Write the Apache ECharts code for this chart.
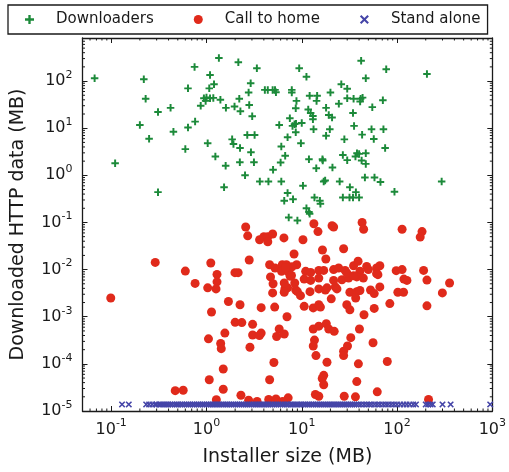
<!DOCTYPE html>
<html>
<head>
<meta charset="utf-8">
<script src="https://cdn.jsdelivr.net/npm/echarts@6/dist/echarts.min.js"></script>
<style>
  html, body { margin: 0; padding: 0; background: #fff; }
  #chart { width: 509px; height: 472px; }
</style>
</head>
<body>
<div id="chart"></div>
<script>
// [installer size MB, downloaded HTTP data MB]
const downloaders = [
  [0.067, 115], [0.11, 1.8], [0.22, 109], [0.23, 42], [0.2, 11.7], [0.25, 6.0], [0.31, 22], [0.31, 0.44],
  [0.42, 27], [0.45, 8.4], [0.6, 3.6], [0.64, 10.3], [0.64, 70], [0.75, 200], [0.76, 13.8], [0.87, 30],
  [0.94, 43], [1.0, 45], [1.09, 43], [1.18, 44], [0.98, 38], [1.07, 70], [1.09, 135], [1.2, 86],
  [1.35, 310], [1.4, 40], [1.03, 4.8], [1.24, 2.5], [1.53, 0.56], [1.59, 1.6], [1.6, 27], [1.97, 29],
  [2.16, 250], [2.21, 42], [2.27, 23], [1.86, 5.8], [1.92, 4.6], [2.25, 3.8], [2.24, 1.9], [2.54, 1.0],
  [2.68, 7.2], [3.2, 7.2], [2.81, 31], [2.77, 57], [2.91, 90], [3.02, 18], [2.93, 3.1], [3.15, 1.9],
  [3.38, 187], [3.63, 0.74], [4.47, 0.74], [4.1, 65], [4.4, 65], [4.95, 65], [5.24, 65], [5.36, 58],
  [5.0, 1.31], [5.8, 11.7], [6.0, 1.87], [6.1, 4.1], [6.7, 2.6], [6.1, 0.74], [7.1, 0.42], [6.55, 0.29],
  [8.1, 0.31], [7.1, 6.4], [7.5, 16.3], [7.86, 65], [7.86, 57], [8.0, 11.2], [8.4, 12.2], [8.7, 12.5],
  [8.65, 26.5], [8.8, 38], [8.65, 8.2],
  [42, 270], [9.4, 187], [11.2, 124], [77, 178], [206, 141], [47, 115], [26, 86], [30, 69], [20, 57],
  [12.1, 49], [14.5, 49], [14.3, 38], [30, 43], [35, 42], [41.5, 42], [43.5, 44.5], [41, 37], [71, 39],
  [24.5, 33], [11.7, 25], [12.4, 21], [18, 27], [55, 28], [34.5, 21], [19.2, 19], [20.8, 16.8],
  [13.1, 18.2], [13.1, 15.5], [10, 12.9], [13.3, 9.5], [19.7, 9.5], [35.4, 11.2], [54, 9.5], [72, 9.5],
  [18, 6.9], [28, 5.8], [43, 7.3], [57, 5.9], [9.8, 4.8], [75, 3.8], [11.9, 2.2], [16.5, 2.2],
  [16.6, 2.06], [14.2, 1.42], [21, 1.46], [27, 2.7], [30, 2.1], [38, 2.95], [36.6, 2.5], [40, 2.85],
  [47, 2.95], [42.5, 2.06], [47, 1.75], [46, 0.9], [58, 0.9], [67, 0.72], [10.3, 0.6], [17, 0.74],
  [17.6, 0.78], [25, 0.74], [32, 0.56], [37, 0.44], [94, 0.45], [294, 0.74], [13.6, 0.34], [15.5, 0.29],
  [15.7, 0.25], [27, 0.34], [31.7, 0.34], [34.5, 0.34], [40, 0.34], [11.2, 0.2], [11.9, 0.166],
  [12.1, 0.153], [7.3, 0.128], [9.0, 0.11]
]

const callHome = [
  [0.099, 0.0025], [0.29, 0.0142], [0.6, 0.0093], [0.76, 0.0051], [1.11, 0.0138], [1.29, 0.0079],
  [1.29, 0.0055], [1.26, 0.0039], [1.03, 0.0041], [1.13, 0.00126], [1.7, 0.0021], [1.99, 0.0086],
  [2.15, 0.0086], [2.25, 0.0018], [2.58, 0.08], [2.71, 0.052], [2.81, 0.016], [3.75, 0.00156],
  [3.61, 0.043], [4.0, 0.05], [4.4, 0.05], [4.95, 0.057], [4.4, 0.039], [6.5, 0.047], [5.2, 0.0016],
  [7.0, 0.001], [2.0, 0.00076], [2.35, 0.00075], [3.05, 0.00069], [3.05, 0.00041], [1.56, 0.00045],
  [3.75, 0.00045], [3.6, 0.0004], [5.8, 0.00055], [5.45, 0.00038], [6.55, 0.00043], [1.05, 0.00034],
  [1.41, 0.00027], [1.43, 0.00021], [2.86, 0.000225], [5.1, 0.000107], [1.5, 7.8e-5], [1.07, 4.6e-5],
  [4.6, 4.6e-5], [1.5, 2.9e-5], [0.47, 2.7e-5], [0.57, 2.75e-5], [2.3, 2.16e-5], [1.27, 1.73e-5],
  [2.77, 1.7e-5], [3.4, 1.6e-5], [4.5, 1.75e-5], [5.36, 1.8e-5], [7.2, 1.9e-5], [6.3, 1.6e-5],
  [4.6, 0.0127], [4.7, 0.007], [5.0, 0.005], [4.95, 0.0032], [5.24, 0.0108], [6.25, 0.0127],
  [6.14, 0.0092], [6.9, 0.0127], [7.26, 0.0089], [7.56, 0.0072], [8.3, 0.0214], [8.85, 0.0127],
  [6.65, 0.0039], [7.1, 0.0041], [8.44, 0.0052], [8.65, 0.0037], [7.9, 0.0115], [6.75, 0.011],
  [7.8, 0.0075], [6.55, 0.0052], [6.55, 0.0033],
  [13.4, 0.094], [14.8, 0.064], [20.8, 0.085], [21.6, 0.08], [43, 0.1], [44.6, 0.072], [113, 0.072],
  [183, 0.064], [175, 0.049], [10.3, 0.043], [16.5, 0.026], [17.9, 0.0168], [27.5, 0.0277],
  [11, 0.0092], [12.4, 0.0087], [15.1, 0.0096], [17, 0.0096], [21.6, 0.01], [24.4, 0.0108],
  [28.5, 0.0096], [35, 0.0121], [39, 0.015], [40.8, 0.0092], [48, 0.0117], [50, 0.01], [61, 0.0108],
  [66, 0.0121], [63, 0.0078], [98, 0.0095], [113, 0.01], [190, 0.0096], [118, 0.0063], [127, 0.0059],
  [206, 0.006], [356, 0.0052], [299, 0.0032], [10.6, 0.0063], [12.4, 0.0059], [15.1, 0.0066],
  [21.6, 0.0059], [26.4, 0.0061], [31, 0.0066], [37.8, 0.007], [44.3, 0.0066], [29.7, 0.0085],
  [35, 0.0074], [61, 0.0082],
  [9.0, 0.0034], [9.7, 0.0028], [12.2, 0.0034], [15.1, 0.0039], [17.7, 0.0037], [18.4, 0.0041],
  [22.5, 0.0043], [23.4, 0.0039], [32, 0.0033], [37.8, 0.0034], [40.8, 0.0036], [52.7, 0.0037],
  [57.6, 0.0031], [66, 0.0043], [102, 0.0033], [117, 0.0033], [36.8, 0.0025], [20.4, 0.0024],
  [10.6, 0.00166], [13.2, 0.00154], [15.1, 0.0018], [15.7, 0.0016], [29.7, 0.0018], [32, 0.0014],
  [57.6, 0.0015], [84, 0.0019], [206, 0.0017], [45, 0.0011], [13.2, 0.00055], [15.1, 0.00063],
  [18.1, 0.00071], [19.2, 0.00055], [21.9, 0.00049], [40.3, 0.00055], [32.7, 0.00036], [13.6, 0.00032],
  [13.2, 0.00024], [30.2, 0.00024], [27.5, 0.000185], [27.5, 0.00015], [56, 0.00028], [14.1, 0.00015],
  [18.4, 0.000108], [39.3, 0.0001], [79, 0.000112], [17, 5.7e-5], [16.4, 4.9e-5], [17, 3.6e-5],
  [37.8, 4.2e-5], [62, 2.55e-5], [13.9, 2.24e-5], [15.1, 2.06e-5], [27.9, 2.06e-5], [36.6, 2e-5],
  [214, 1.75e-5]
]

// stand-alone installers: no HTTP data, drawn on the floor value
const standAloneY = 1.38e-5
const standAloneX = [
  0.13, 0.153, 0.233, 0.25, 0.27, 0.29, 0.3, 0.318, 0.333, 0.35, 0.367, 0.384, 0.4, 0.42, 0.44,
  0.466, 0.49, 0.51, 0.537, 0.56, 0.59, 0.62, 0.65, 0.68, 0.716, 0.75, 0.79, 0.826, 0.866, 0.91, 0.95,
  1.0, 1.05, 1.1, 1.15, 1.2, 1.26, 1.32, 1.38, 1.45, 1.52, 1.6, 1.67, 1.75, 1.84, 1.93, 2.02, 2.12,
  2.22, 2.33, 2.44, 2.56, 2.68, 2.81, 2.95, 3.1, 3.25, 3.4, 3.57, 3.74, 3.92, 4.1, 4.3, 4.5, 4.72,
  4.95, 5.2, 5.45, 5.7, 6.0, 6.3, 6.6, 6.9, 7.2, 7.6, 7.9, 8.3, 8.7, 9.1, 9.6, 10, 10.5, 11, 11.6,
  12.1, 12.7, 13.3, 14, 14.6, 15.3, 16, 16.8, 17.6, 18.5, 19.4, 20.3, 21.3, 22.3, 23.4, 24.5, 25.7,
  27, 28.3, 29.6, 31, 32.5, 34, 35.7, 37.4,
  39.5, 42, 45, 48, 51, 54, 58, 62, 66, 71, 76, 81, 87, 93, 100, 108, 117, 126, 136, 148, 158,
  200, 212, 225, 237, 300, 365, 950
]

const xMin = 0.05
const xMax = 1000
const yMin = 1e-5
const yMax = 820

// minor ticks of the log axes (2..9 x 10^k)
function minorTicks(lo, hi) {
  const out = []
  for (let e = -6; e <= 3; e++) {
    for (let k = 2; k <= 9; k++) {
      const v = k * Math.pow(10, e)
      if (v > lo && v < hi) out.push(v)
    }
  }
  return out
}
const xMinorTicks = minorTicks(xMin, xMax)
const yMinorTicks = minorTicks(yMin, yMax)

const FONT = 'DejaVu Sans'
const INK = '#1a1a1a'
const plusPath = 'path://M-1.3,-5L1.3,-5L1.3,-1.3L5,-1.3L5,1.3L1.3,1.3L1.3,5L-1.3,5L-1.3,1.3L-5,1.3L-5,-1.3L-1.3,-1.3Z'
const xPath = 'path://M-5,-3.4L-3.4,-5L0,-1.6L3.4,-5L5,-3.4L1.6,0L5,3.4L3.4,5L0,1.6L-3.4,5L-5,3.4L-1.6,0Z'

function powLabel(value) {
  const e = Math.round(Math.log10(value))
  if (Math.abs(Math.log10(value) - e) > 1e-6) return ''
  return '10{sup|' + e + '}'
}
const labelRich = {
  sup: { fontSize: 11, fontFamily: FONT, color: INK, padding: [0, 0, 12, 0] }
}

function logAxis(pos, min, max, extra) {
  return Object.assign({
    type: 'log',
    position: pos,
    min: min,
    max: max,
    axisLine: { show: true, onZero: false, lineStyle: { color: INK, width: 1.3 } },
    axisTick: { show: true, inside: true, length: 5, lineStyle: { color: INK, width: 1 } },
    splitLine: { show: false },
    axisLabel: { show: false }
  }, extra)
}

const chart = echarts.init(document.getElementById('chart'))

chart.setOption({
  animation: false,
  legend: {
    data: ['Downloaders', 'Call to home', 'Stand alone'],
    left: 8,
    top: 5,
    padding: [7, 7, 7, 17],
    itemGap: 40,
    itemWidth: 9,
    itemHeight: 9,
    borderColor: INK,
    borderWidth: 1.3,
    borderRadius: 0,
    textStyle: { fontFamily: FONT, fontSize: 15, color: INK, padding: [0, 0, 0, 17] }
  },
  grid: { left: 82.5, right: 11.5, top: 38, bottom: 60.5 },
  xAxis: [
    logAxis('bottom', xMin, xMax, {
      splitNumber: 4,
      name: 'Installer size (MB)',
      nameLocation: 'middle',
      nameGap: 37,
      nameTextStyle: { fontFamily: FONT, fontSize: 19, color: INK },
      axisLabel: {
        show: true, margin: 7, formatter: powLabel,
        fontFamily: FONT, fontSize: 16, color: INK, rich: labelRich
      }
    }),
    logAxis('top', xMin, xMax, { splitNumber: 4 })
  ],
  yAxis: [
    logAxis('left', yMin, yMax, {
      interval: 1,
      name: 'Downloaded HTTP data (MB)',
      nameLocation: 'middle',
      nameGap: 55,
      nameTextStyle: { fontFamily: FONT, fontSize: 19, color: INK },
      axisLabel: {
        show: true, margin: 10, formatter: powLabel,
        fontFamily: FONT, fontSize: 16, color: INK, rich: labelRich
      }
    }),
    logAxis('right', yMin, yMax, { interval: 1 })
  ],
  series: [
    {
      name: 'Downloaders',
      type: 'scatter',
      symbol: plusPath,
      symbolSize: 7.5,
      itemStyle: { color: '#1c8a3a', opacity: 1 },
      data: downloaders
    },
    {
      name: 'Call to home',
      type: 'scatter',
      symbol: 'circle',
      symbolSize: 9,
      itemStyle: { color: '#e02a1b', opacity: 1 },
      data: callHome
    },
    {
      name: 'Stand alone',
      type: 'scatter',
      symbol: xPath,
      symbolSize: 6.5,
      itemStyle: { color: '#4545a8', opacity: 1 },
      data: standAloneX.map(x => [x, standAloneY])
    },
    {
      name: 'xMinor',
      type: 'custom',
      silent: true,
      data: xMinorTicks.map(v => [v, 1]),
      renderItem: (params, api) => {
        const cs = params.coordSys
        const x = api.coord([api.value(0), 1])[0]
        const st = { stroke: INK, lineWidth: 1 }
        return {
          type: 'group',
          children: [
            { type: 'line', shape: { x1: x, y1: cs.y + cs.height, x2: x, y2: cs.y + cs.height - 2.5 }, style: st },
            { type: 'line', shape: { x1: x, y1: cs.y, x2: x, y2: cs.y + 2.5 }, style: st }
          ]
        }
      }
    },
    {
      name: 'yMinor',
      type: 'custom',
      silent: true,
      data: yMinorTicks.map(v => [1, v]),
      renderItem: (params, api) => {
        const cs = params.coordSys
        const y = api.coord([1, api.value(1)])[1]
        const st = { stroke: INK, lineWidth: 1 }
        return {
          type: 'group',
          children: [
            { type: 'line', shape: { x1: cs.x, y1: y, x2: cs.x + 2.5, y2: y }, style: st },
            { type: 'line', shape: { x1: cs.x + cs.width, y1: y, x2: cs.x + cs.width - 2.5, y2: y }, style: st }
          ]
        }
      }
    }
  ]
})
</script>
</body>
</html>
